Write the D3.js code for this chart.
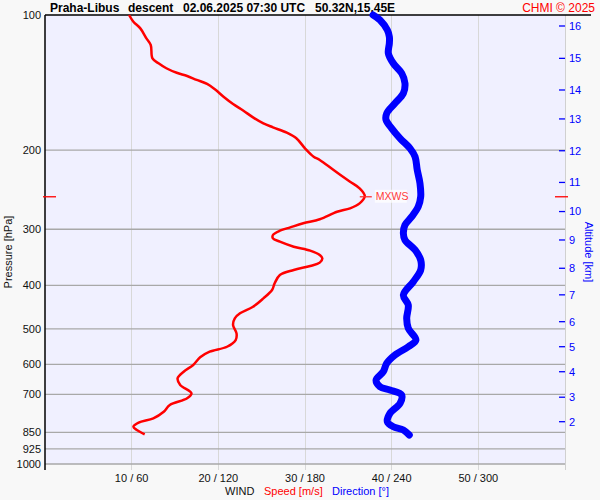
<!DOCTYPE html>
<html><head><meta charset="utf-8">
<script src="https://cdn.jsdelivr.net/npm/d3@7"></script>
<style>
html,body{margin:0;padding:0;background:#f8f8f8;}
svg{display:block;font-family:"Liberation Sans",Arial,sans-serif;}
</style></head>
<body><svg id="c" width="600" height="500"></svg>
<script>
// ---- data ----
const pressureTicks = [100,200,300,400,500,600,700,850,925,1000];
const speedTicks = [10,20,30,40,50];
const dirTicks = [60,120,180,240,300];
const altKm = [2,3,4,5,6,7,8,9,10,11,12,13,14,15,16];
const altP  = [805,710,623,548,482,420,366.5,317,274,236,200.6,170.4,146.9,124.9,105.8];
const mxwsP = 254;

const speedP = [100,103.5,107.1,112.7,116.6,124.9,128.1,131.4,134.5,136.7,139.5,142.4,146.4,152.1,157.9,163.4,169.0,174.3,177.9,182.9,188.2,198.1,206.8,210.3,221.4,235.1,243.2,253.0,262.7,269.5,274.3,285.1,291.0,297.1,302.3,309.0,314.3,319.8,328.1,334.9,342.3,348.2,356.1,362.2,369.7,379.3,395.8,409.7,427.6,446.4,461.8,473.8,490.4,511.7,529.6,548.1,562.2,578.7,601.9,622.9,644.4,666.8,695.8,714.0,739.0,764.8,791.1,809.1,825.9,840.0,858.7];
const speedV = [9.7,10.2,11.0,11.7,12.2,12.4,13.1,14.0,15.2,16.4,17.5,18.7,19.6,20.6,21.7,22.9,24.0,25.2,26.3,27.9,29.0,30.0,31.0,31.7,33.3,35.2,36.3,36.9,36.3,35.2,33.7,31.7,29.8,28.3,27.1,26.3,26.3,27.1,28.7,30.6,31.7,32.0,31.7,30.6,28.7,27.1,26.5,26.2,25.2,24.0,22.5,21.9,21.7,22.1,22.0,21.0,19.0,17.9,17.1,16.0,15.3,15.6,16.9,16.4,14.4,13.7,12.5,10.8,10.2,10.6,11.5];

const dirP = [100,102.6,108.0,111.8,115.6,121.7,128.1,134.9,141.9,149.4,157.3,165.5,171.3,178.8,188.2,198.1,206.8,221.4,237.1,253.9,267.3,281.3,293.6,306.3,317.0,333.7,351.3,369.7,392.6,420.4,442.5,473.8,498.6,529.6,548.1,571.9,596.7,622.9,650.1,672.7,684.2,702.0,732.5,771.2,805.0,825.9,840.0,861.7];
const dirV = [227.1,231.9,237.0,238.4,238.4,237.7,241.1,247.0,249.2,248.1,242.3,236.6,236.1,240.0,245.8,252.7,256.2,257.7,259.6,260.1,258.4,253.9,249.2,248.1,249.2,256.2,260.1,260.1,255.0,248.1,251.5,250.4,251.5,256.8,251.5,242.3,236.6,234.2,229.2,231.9,238.8,246.9,245.8,238.8,237.0,241.1,248.1,252.2];

// ---- layout ----
const svg = d3.select("#c");
const L = 45, R = 565, T = 15, B = 464, Bx = 470;
const y = d3.scaleLog().domain([100,1000]).range([T,B]);
const xs = d3.scaleLinear().domain([0,60]).range([L,R]);
const xd = d3.scaleLinear().domain([0,360]).range([L,R]);

svg.append("rect").attr("width",600).attr("height",500).attr("fill","#f8f8f8");
svg.append("rect").attr("x",L).attr("y",T).attr("width",R-L).attr("height",B-T).attr("fill","#f0f0ff");

// vertical grid
svg.append("g").selectAll("line").data(speedTicks).join("line")
  .attr("x1",d=>xs(d)).attr("x2",d=>xs(d)).attr("y1",T).attr("y2",Bx)
  .attr("stroke","#d8d8d8").attr("stroke-width",1).attr("shape-rendering","crispEdges");
svg.append("line").attr("x1",R).attr("x2",R).attr("y1",T).attr("y2",Bx)
  .attr("stroke","#d0d0d0").attr("shape-rendering","crispEdges");

// horizontal grid
svg.append("g").selectAll("line").data(pressureTicks.filter(d=>d>100)).join("line")
  .attr("x1",L).attr("x2",R).attr("y1",d=>y(d)).attr("y2",d=>y(d))
  .attr("stroke","#a8a8a8").attr("stroke-width",1.3);

// axes lines
svg.append("line").attr("x1",L).attr("x2",L).attr("y1",T).attr("y2",Bx).attr("stroke","#000").attr("stroke-width",1.5);
svg.append("line").attr("x1",L).attr("x2",591).attr("y1",T).attr("y2",T).attr("stroke","#000").attr("stroke-width",1.5);

// pressure labels
svg.append("g").selectAll("text").data(pressureTicks).join("text")
  .attr("x",41).attr("y",d=>y(d)).attr("dy","0.35em").attr("text-anchor","end")
  .attr("font-size",11).attr("fill","#111").text(d=>d);
svg.append("text").attr("transform","translate(12,252) rotate(-90)").attr("text-anchor","middle")
  .attr("font-size",11).attr("fill","#111").text("Pressure [hPa]");

// bottom labels
svg.append("g").selectAll("text").data(speedTicks).join("text")
  .attr("x",d=>xs(d)).attr("y",482).attr("text-anchor","middle")
  .attr("font-size",11).attr("fill","#111").text((d,i)=>d+" / "+dirTicks[i]);
const bt = svg.append("text").attr("x",225).attr("y",495).attr("font-size",11);
bt.append("tspan").attr("fill","#111").text("WIND");
bt.append("tspan").attr("x",264).attr("fill","#ff0000").text("Speed [m/s]");
bt.append("tspan").attr("x",332).attr("fill","#0000ff").text("Direction [°]");

// altitude axis
svg.append("g").selectAll("line").data(altP).join("line")
  .attr("x1",559).attr("x2",565).attr("y1",d=>y(d)).attr("y2",d=>y(d))
  .attr("stroke","#0000ff").attr("stroke-width",1.3);
svg.append("g").selectAll("text").data(altKm).join("text")
  .attr("x",569).attr("y",(d,i)=>y(altP[i])).attr("dy","0.35em")
  .attr("font-size",11).attr("fill","#0000ff").text(d=>d);
svg.append("text").attr("transform","translate(585,252) rotate(90)").attr("text-anchor","middle")
  .attr("font-size",11).attr("fill","#0000ff").text("Altitude [km]");

// title
const tt = svg.append("g").attr("font-size",12).attr("font-weight","bold").attr("fill","#000");
tt.append("text").attr("x",50).attr("y",12).text("Praha-Libus");
tt.append("text").attr("x",128).attr("y",12).text("descent");
tt.append("text").attr("x",183).attr("y",12).text("02.06.2025 07:30 UTC");
tt.append("text").attr("x",315).attr("y",12).text("50.32N,15.45E");
svg.append("text").attr("x",595).attr("y",12).attr("text-anchor","end").attr("font-size",12)
  .attr("fill","#ff0000").text("CHMI © 2025");

// direction line
const dirData = dirP.map((p,i)=>({p,v:dirV[i]}));
svg.append("path").datum(dirData)
  .attr("d",d3.line().x(d=>xd(d.v)).y(d=>y(d.p)).curve(d3.curveCatmullRom))
  .attr("fill","none").attr("stroke","#0000ff").attr("stroke-width",7)
  .attr("stroke-linejoin","round").attr("stroke-linecap","round");

// speed line
const spData = speedP.map((p,i)=>({p,v:speedV[i]}));
svg.append("path").datum(spData)
  .attr("d",d3.line().x(d=>xs(d.v)).y(d=>y(d.p)).curve(d3.curveCatmullRom))
  .attr("fill","none").attr("stroke","#ff0000").attr("stroke-width",2.5)
  .attr("stroke-linejoin","round");

// MXWS markers
const mxV = d3.max(speedV);
const my = y(mxwsP);
svg.append("line").attr("x1",43).attr("x2",56).attr("y1",my).attr("y2",my).attr("stroke","#ff0000").attr("stroke-width",1.3);
svg.append("line").attr("x1",555).attr("x2",568).attr("y1",my).attr("y2",my).attr("stroke","#ff0000").attr("stroke-width",1.3);
svg.append("line").attr("x1",xs(mxV)-5).attr("x2",xs(mxV)+7).attr("y1",my).attr("y2",my).attr("stroke","#ff3030").attr("stroke-width",1.3);
svg.append("rect").attr("x",xs(mxV)+10).attr("y",my-7).attr("width",32).attr("height",13).attr("fill","#ffffff").attr("opacity",0.7);
svg.append("text").attr("x",xs(mxV)+11).attr("y",my).attr("dy","0.35em").attr("font-size",10.5)
  .attr("fill","#ff3a3a").text("MXWS");
</script></body></html>
